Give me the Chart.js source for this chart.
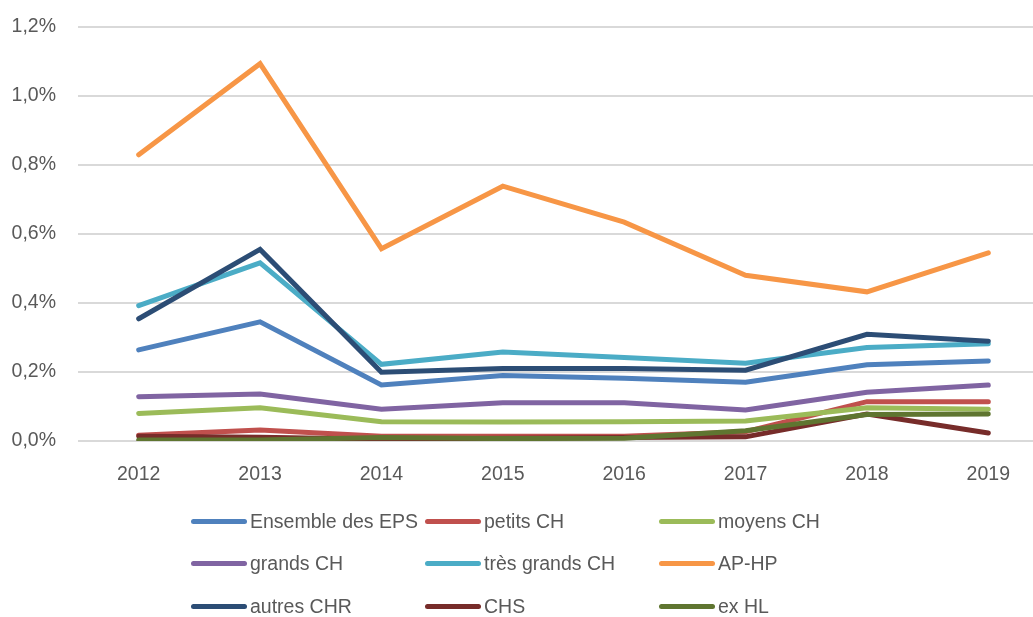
<!DOCTYPE html>
<html lang="fr">
<head>
<meta charset="utf-8">
<script src="https://cdn.jsdelivr.net/npm/chart.js@4/dist/chart.umd.min.js"></script>
<style>
  html, body { margin: 0; padding: 0; background: #fff; overflow: hidden; }
  #wrap { position: relative; width: 1033px; height: 617px; overflow: hidden; }
  #box { position: absolute; left: 0; top: -7px; width: 1050px; height: 497px; }
  #legend { position: absolute; left: 0; top: 0; width: 1033px; height: 617px; pointer-events: none; }
  .item { position: absolute; display: flex; align-items: center; height: 30px;
          font-family: "Liberation Sans", Arial, sans-serif;
          font-size: 19.5px; color: #595959; white-space: nowrap; }
  .swatch { width: 56px; height: 5px; border-radius: 3px; margin-right: 3px; }
</style>
</head>
<body>
<div id="wrap">
  <div id="box"><canvas id="chart"></canvas></div>
  <div id="legend"></div>
</div>
<script>
// ========= DATA ========= //
const years = ["2012", "2013", "2014", "2015", "2016", "2017", "2018", "2019"];

const seriesNames = ["Ensemble des EPS", "petits CH", "moyens CH", "grands CH", "très grands CH",
                     "AP-HP", "autres CHR", "CHS", "ex HL"];
const seriesColors = ["#4F81BD", "#C0504D", "#9BBB59", "#8064A2", "#4BACC6",
                      "#F79646", "#2C4D75", "#772C2A", "#5F7530"];

// values in %
const ensembleEPS = [0.264, 0.345, 0.162, 0.190, 0.182, 0.170, 0.221, 0.232];
const petitsCH    = [0.017, 0.032, 0.014, 0.014, 0.014, 0.027, 0.114, 0.114];
const moyensCH    = [0.080, 0.096, 0.056, 0.055, 0.056, 0.058, 0.096, 0.092];
const grandsCH    = [0.128, 0.136, 0.092, 0.111, 0.111, 0.090, 0.141, 0.162];
const tresGrandsCH = [0.392, 0.516, 0.222, 0.258, 0.242, 0.225, 0.271, 0.282];
const apHP        = [0.829, 1.093, 0.557, 0.738, 0.634, 0.480, 0.432, 0.545];
const autresCHR   = [0.354, 0.555, 0.199, 0.210, 0.210, 0.205, 0.309, 0.289];
const chs         = [0.014, 0.011, 0.005, 0.008, 0.010, 0.012, 0.078, 0.023];
const exHL        = [0.003, 0.003, 0.010, 0.007, 0.008, 0.030, 0.077, 0.078];

const allValues = [ensembleEPS, petitsCH, moyensCH, grandsCH, tresGrandsCH, apHP, autresCHR, chs, exHL];

const yMax = 1.2;
const yStep = 0.2;

const FONT = "'Liberation Sans', Arial, sans-serif";

// ========= CHART ========= //
const datasets = allValues.map((vals, i) => ({
    label: seriesNames[i],
    data: vals,
    borderColor: seriesColors[i],
    backgroundColor: seriesColors[i],
    borderWidth: 5,
    borderCapStyle: "round",
    borderJoinStyle: "miter",
    pointRadius: 0,
    tension: 0,
    order: -i   // later series drawn on top, like Excel
}));

new Chart(document.getElementById("chart"), {
    type: "line",
    data: { labels: years, datasets: datasets },
    options: {
        responsive: true,
        maintainAspectRatio: false,
        animation: false,
        layout: { padding: { top: 9, right: 1, left: 0, bottom: 0 } },
        plugins: { legend: { display: false }, tooltip: { enabled: false } },
        scales: {
            x: {
                offset: true,
                grid: { display: false },
                border: { display: false },
                ticks: { color: "#595959", font: { family: FONT, size: 19.5 }, padding: 14 },
                afterFit: (s) => { s.height = 49; }
            },
            y: {
                min: 0,
                max: yMax,
                grid: { color: "#d9d9d9", lineWidth: 2, drawTicks: false },
                border: { display: false },
                ticks: {
                    stepSize: yStep,
                    padding: 22,
                    color: "#595959",
                    font: { family: FONT, size: 19.5 },
                    callback: (v) => v.toFixed(1).replace(".", ",") + "%"
                },
                afterFit: (s) => { s.width = 78; }
            }
        }
    }
});

// ========= LEGEND ========= //
const legendCols = [191, 425, 659];
const legendRows = [521, 563, 606];
const legend = document.getElementById("legend");
seriesNames.forEach((name, i) => {
    const el = document.createElement("div");
    el.className = "item";
    el.style.left = legendCols[i % 3] + "px";
    el.style.top = (legendRows[Math.floor(i / 3)] - 15) + "px";
    el.innerHTML = '<span class="swatch" style="background:' + seriesColors[i] + '"></span><span></span>';
    el.lastChild.textContent = name;
    legend.appendChild(el);
});
</script>
</body>
</html>
